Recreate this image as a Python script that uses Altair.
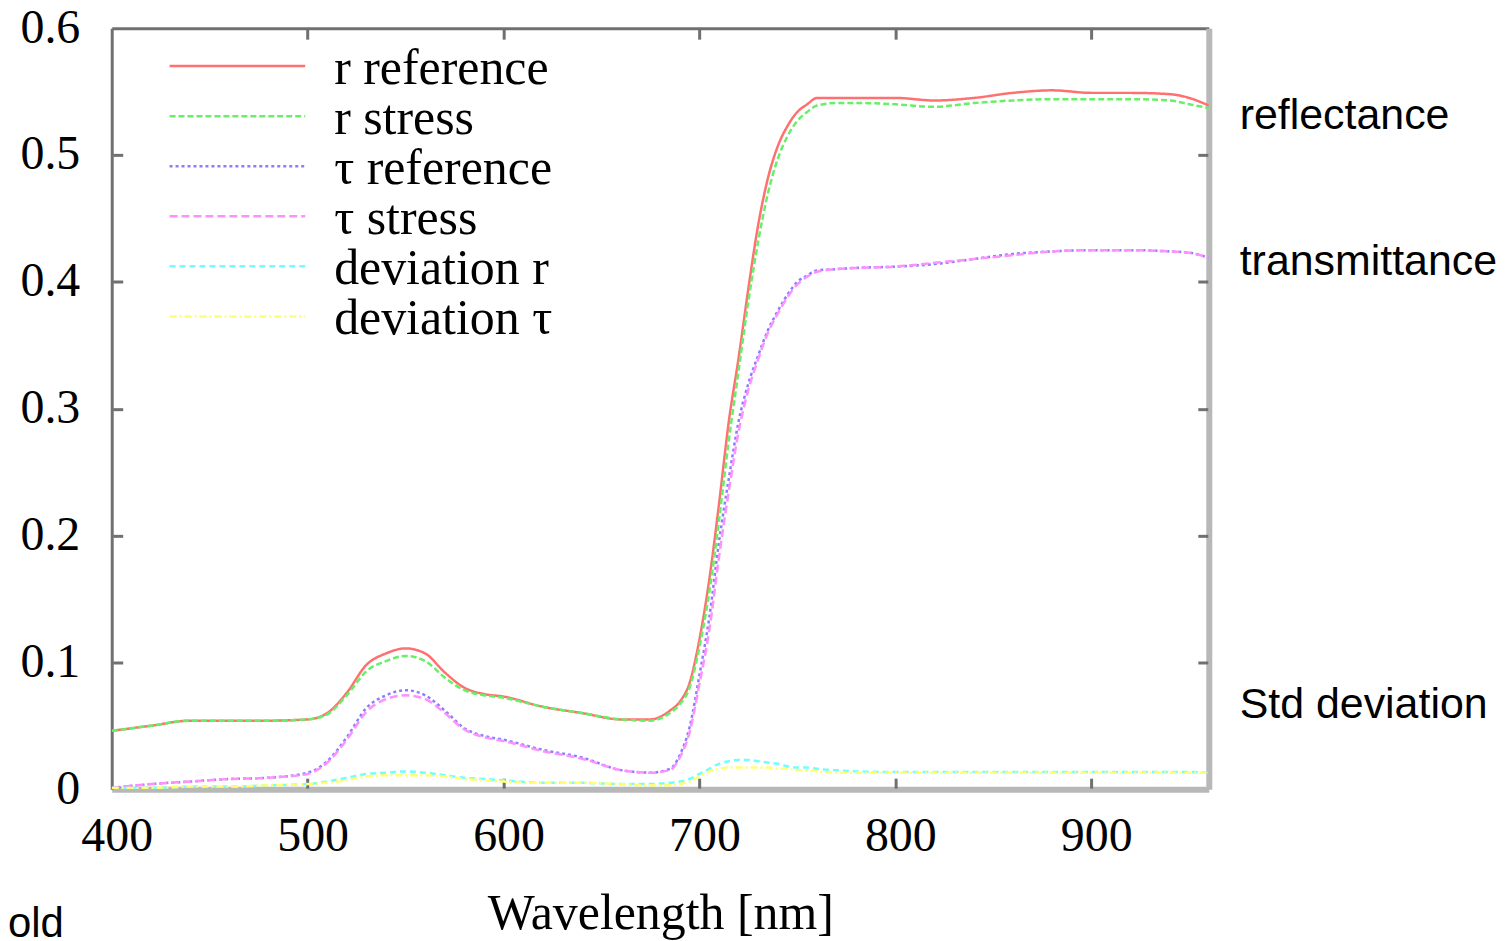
import altair as alt
import pandas as pd

wavelength = [400, 420, 440, 460, 480, 500, 510, 520, 530, 540, 550, 560, 570, 580, 590, 600,
              620, 640, 660, 675, 685, 690, 695, 700, 705, 710, 715, 720, 725, 730, 735, 740,
              745, 750, 755, 760, 770, 780, 800, 820, 840, 860, 880, 900, 920, 940, 950, 960]

r_reference = [0.046, 0.050, 0.054, 0.054, 0.054, 0.055, 0.060, 0.076, 0.098, 0.107, 0.111, 0.107,
               0.092, 0.080, 0.075, 0.073, 0.065, 0.060, 0.055, 0.055, 0.062, 0.069, 0.084, 0.118,
               0.165, 0.225, 0.290, 0.340, 0.395, 0.445, 0.482, 0.507, 0.523, 0.534, 0.540, 0.545,
               0.545, 0.545, 0.545, 0.543, 0.545, 0.549, 0.551, 0.549, 0.549, 0.548, 0.545, 0.539]

r_stress = [0.046, 0.050, 0.054, 0.054, 0.054, 0.055, 0.059, 0.074, 0.093, 0.101, 0.105, 0.101,
            0.088, 0.078, 0.074, 0.072, 0.065, 0.060, 0.055, 0.054, 0.060, 0.067, 0.080, 0.112,
            0.155, 0.212, 0.275, 0.330, 0.385, 0.432, 0.470, 0.497, 0.515, 0.527, 0.534, 0.539,
            0.541, 0.541, 0.540, 0.538, 0.541, 0.543, 0.544, 0.544, 0.544, 0.543, 0.540, 0.537]

tau_reference = [0.001, 0.004, 0.006, 0.008, 0.009, 0.013, 0.022, 0.041, 0.064, 0.074, 0.078, 0.074,
                 0.062, 0.048, 0.042, 0.039, 0.031, 0.025, 0.015, 0.013, 0.016, 0.027, 0.049, 0.090,
                 0.135, 0.195, 0.245, 0.290, 0.320, 0.342, 0.362, 0.377, 0.390, 0.400, 0.405, 0.409,
                 0.410, 0.411, 0.412, 0.414, 0.418, 0.422, 0.424, 0.425, 0.425, 0.424, 0.423, 0.419]

tau_stress = [0.001, 0.004, 0.006, 0.008, 0.009, 0.012, 0.021, 0.039, 0.061, 0.071, 0.074, 0.071,
              0.060, 0.047, 0.041, 0.038, 0.030, 0.024, 0.015, 0.013, 0.015, 0.025, 0.045, 0.083,
              0.125, 0.183, 0.235, 0.282, 0.315, 0.339, 0.360, 0.375, 0.388, 0.398, 0.404, 0.408,
              0.410, 0.411, 0.412, 0.415, 0.418, 0.421, 0.424, 0.425, 0.425, 0.424, 0.423, 0.419]

deviation_r = [0.001, 0.001, 0.002, 0.002, 0.003, 0.004, 0.006, 0.009, 0.012, 0.013, 0.014, 0.013,
               0.011, 0.009, 0.008, 0.007, 0.005, 0.005, 0.004, 0.004, 0.005, 0.006, 0.008, 0.012,
               0.016, 0.020, 0.022, 0.023, 0.023, 0.022, 0.021, 0.020, 0.018, 0.017, 0.017, 0.016,
               0.015, 0.014, 0.0135, 0.0135, 0.0135, 0.0135, 0.0135, 0.0135, 0.0135, 0.0135, 0.0135, 0.013]

deviation_tau = [0.001, 0.001, 0.002, 0.002, 0.003, 0.004, 0.005, 0.007, 0.010, 0.011, 0.011, 0.011,
                 0.010, 0.008, 0.007, 0.006, 0.005, 0.005, 0.004, 0.003, 0.003, 0.004, 0.006, 0.010,
                 0.014, 0.016, 0.017, 0.017, 0.017, 0.017, 0.017, 0.016, 0.016, 0.015, 0.015, 0.014,
                 0.013, 0.013, 0.013, 0.013, 0.013, 0.013, 0.013, 0.013, 0.013, 0.013, 0.013, 0.013]

series_names = ["r reference", "r stress", "τ reference", "τ stress", "deviation r", "deviation τ"]
series_values = [r_reference, r_stress, tau_reference, tau_stress, deviation_r, deviation_tau]
series_colors = ["#ff7070", "#66f066", "#8a7dff", "#ff90ff", "#70ffff", "#ffff70"]
series_dashes = [[1, 0], [6, 3], [3, 3], [8, 4], [6, 4], [7, 3, 2, 3]]

side_labels = ["reflectance", "transmittance", "Std deviation"]
side_label_y = [0.531, 0.416, 0.066]

x_ticks = [400, 500, 600, 700, 800, 900]
y_ticks = [0, 0.1, 0.2, 0.3, 0.4, 0.5, 0.6]
x_inner = [500, 600, 700, 800, 900]
y_inner = [0.1, 0.2, 0.3, 0.4, 0.5]

rows = []
for name, vals in zip(series_names, series_values):
    for w, v in zip(wavelength, vals):
        rows.append({"series": name, "wl": w, "value": v})
df = pd.DataFrame(rows)
legend_df = pd.DataFrame({"series": series_names})

SERIF = "Liberation Serif"
SANS = "Liberation Sans"

xs = alt.Scale(domain=[400, 960], nice=False, zero=False)
ys = alt.Scale(domain=[0, 0.6], nice=False, zero=False)
color_enc = alt.Color("series:N", sort=series_names,
                      scale=alt.Scale(domain=series_names, range=series_colors), legend=None)
dash_enc = alt.StrokeDash("series:N", sort=series_names,
                          scale=alt.Scale(domain=series_names, range=series_dashes), legend=None)

lines = alt.Chart(df).mark_line(strokeWidth=2.5, clip=True, interpolate="monotone").encode(
    x=alt.X("wl:Q", scale=xs, axis=alt.Axis(
        orient="bottom", values=x_ticks, title="Wavelength [nm]", grid=False,
        ticks=False, domainColor="#b8b8b8", domainWidth=6, labelFlush=False,
        labelFont=SERIF, labelFontSize=48, labelColor="black", labelPadding=24, labelOffset=5,
        titleFont=SERIF, titleFontSize=50, titleFontWeight="normal", titleColor="black",
        titlePadding=28)),
    y=alt.Y("value:Q", scale=ys, axis=alt.Axis(
        orient="left", values=y_ticks, format=".1~f", title=None, grid=False,
        ticks=False, domainColor="#707070", domainWidth=3, labelFlush=False,
        labelFont=SERIF, labelFontSize=48, labelColor="black", labelPadding=32)),
    color=color_enc,
    strokeDash=dash_enc,
)

frame = alt.Chart(df).mark_point(opacity=0).encode(
    x=alt.X("wl:Q", scale=xs, axis=alt.Axis(orient="top", labels=False, ticks=False, title=None,
                                            grid=False, domainColor="#707070", domainWidth=3)),
    y=alt.Y("value:Q", scale=ys, axis=alt.Axis(orient="right", labels=False, ticks=False, title=None,
                                               grid=False, domainColor="#b8b8b8", domainWidth=6)),
)

ticks_bl = alt.Chart(df).mark_point(opacity=0).encode(
    x=alt.X("wl:Q", scale=xs, axis=alt.Axis(orient="bottom", offset=-11, values=x_inner, labels=False,
                                            domain=False, tickSize=10, tickWidth=3, tickColor="#707070",
                                            title=None, grid=False)),
    y=alt.Y("value:Q", scale=ys, axis=alt.Axis(orient="left", offset=-11, values=y_inner, labels=False,
                                               domain=False, tickSize=10, tickWidth=3, tickColor="#707070",
                                               title=None, grid=False)),
)

ticks_tr = alt.Chart(df).mark_point(opacity=0).encode(
    x=alt.X("wl:Q", scale=xs, axis=alt.Axis(orient="top", offset=-11, values=x_inner, labels=False,
                                            domain=False, tickSize=10, tickWidth=3, tickColor="#707070",
                                            title=None, grid=False)),
    y=alt.Y("value:Q", scale=ys, axis=alt.Axis(orient="right", offset=-11, values=y_inner, labels=False,
                                               domain=False, tickSize=10, tickWidth=3, tickColor="#707070",
                                               title=None, grid=False)),
)

# custom legend (series placed on a point scale down the upper-left corner)
leg_y = alt.Y("series:N", sort=series_names, axis=None,
              scale=alt.Scale(type="point", domain=series_names, range=[38, 289], padding=0))
legend_lines = alt.Chart(legend_df).mark_rule(strokeWidth=2.5).encode(
    x=alt.value(58), x2=alt.value(194), y=leg_y, color=color_enc, strokeDash=dash_enc)
legend_text = alt.Chart(legend_df).mark_text(font=SERIF, fontSize=50, align="left",
                                             baseline="middle", color="black", dy=3).encode(
    x=alt.value(223), y=leg_y, text="series:N")

side_df = pd.DataFrame({"label": side_labels, "y": side_label_y})
side = alt.Chart(side_df).mark_text(font=SANS, fontSize=43, align="left", baseline="middle",
                                    color="black").encode(
    x=alt.value(1131),
    y=alt.Y("y:Q", scale=ys, axis=None),
    text="label:N",
)

old_df = pd.DataFrame({"label": ["old"]})
old = alt.Chart(old_df).mark_text(font=SANS, fontSize=42, align="left", baseline="middle",
                                  color="black").encode(
    x=alt.value(-104), y=alt.value(898), text="label:N")

chart = alt.layer(lines, frame, ticks_bl, ticks_tr, legend_lines, legend_text, side, old).resolve_axis(
    x="independent", y="independent"
).resolve_scale(y="independent").properties(
    width=1100, height=763,
    padding={"left": 104, "top": 19, "right": 295, "bottom": 150},
    autosize=alt.AutoSizeParams(type="none"),
    background="white",
).configure_view(stroke=None)

chart.save("out.html", embed_options={"renderer": "svg", "actions": False})
